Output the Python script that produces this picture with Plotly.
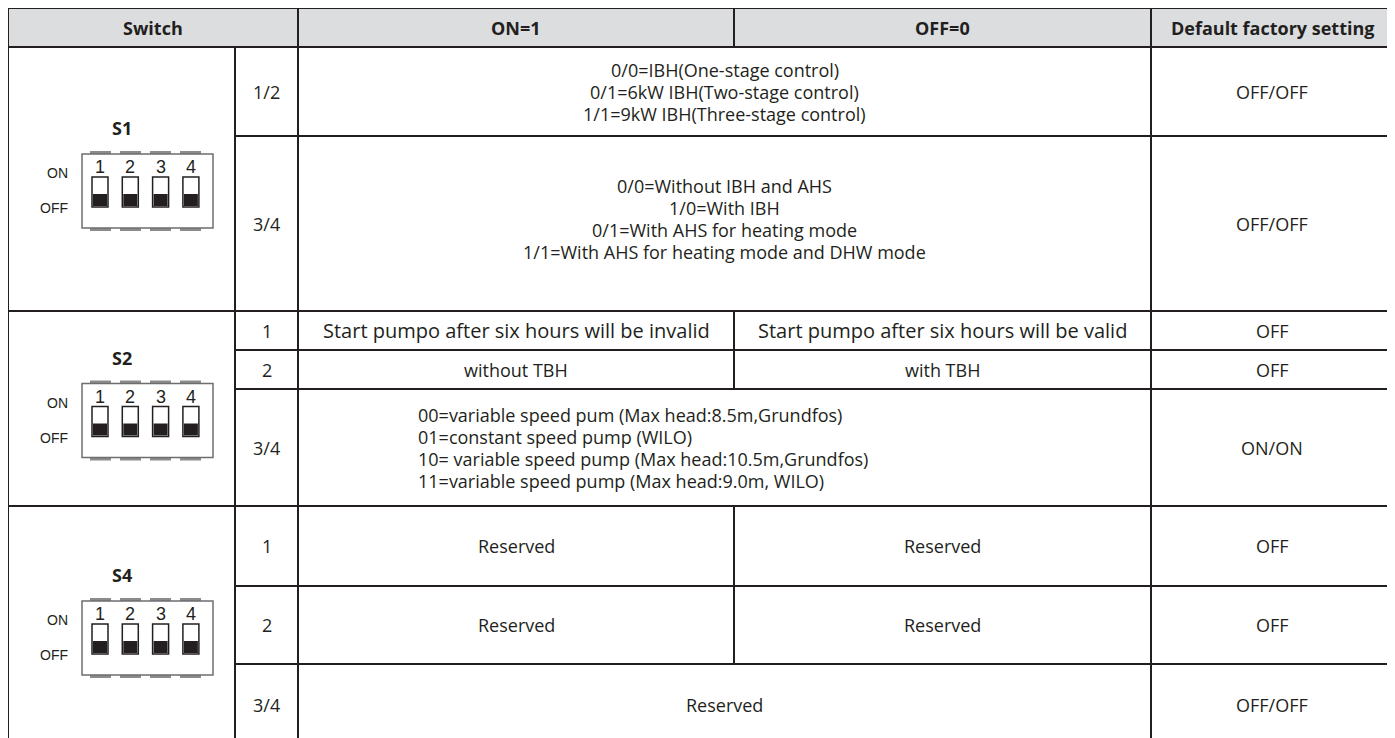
import plotly.graph_objects as go

# ---------------- data ----------------
header_labels = ["Switch", "ON=1", "OFF=0", "Default factory setting"]
switch_names = ["S1", "S2", "S4"]
bit_labels = [["1/2", "3/4"], ["1", "2", "3/4"], ["1", "2", "3/4"]]
on_texts = [
    [["0/0=IBH(One-stage control)", "0/1=6kW IBH(Two-stage control)", "1/1=9kW IBH(Three-stage control)"],
     ["0/0=Without IBH and AHS", "1/0=With IBH", "0/1=With AHS for heating mode",
      "1/1=With AHS for heating mode and DHW mode"]],
    [["Start pumpo after six hours will be invalid"], ["without TBH"],
     ["00=variable speed pum (Max head:8.5m,Grundfos)", "01=constant speed pump (WILO)",
      "10= variable speed pump (Max head:10.5m,Grundfos)", "11=variable speed pump (Max head:9.0m, WILO)"]],
    [["Reserved"], ["Reserved"], ["Reserved"]],
]
off_texts = [
    [None, None],
    [["Start pumpo after six hours will be valid"], ["with TBH"], None],
    [["Reserved"], ["Reserved"], None],
]
defaults = [["OFF/OFF", "OFF/OFF"], ["OFF", "OFF", "ON/ON"], ["OFF", "OFF", "OFF/OFF"]]
left_aligned = [[False, False], [False, False, True], [False, False, False]]
dip_numbers = ["1", "2", "3", "4"]
dip_states = [[0, 0, 0, 0], [0, 0, 0, 0], [0, 0, 0, 0]]

# ---------------- layout (screen pixels) ----------------
COL = [8, 235, 298, 734, 1151, 1393]
HEAD = (8, 47)
ROWS = [[47, 136, 311], [311, 350, 389, 506], [506, 586, 664, 746]]
LINE_H = 22
TXT = "#231f20"
LINE = "#231f20"
FONT = "Open Sans"
FS = 18
CELL_FS = {(1, 0): 20}   # this row's text is set larger in the original

shapes = []
ann = []


def hline(y, x0, x1):
    shapes.append(dict(type="line", xref="x", yref="y", x0=x0, x1=x1, y0=y, y1=y,
                       line=dict(color=LINE, width=2)))


def vline(x, y0, y1):
    shapes.append(dict(type="line", xref="x", yref="y", x0=x, x1=x, y0=y0, y1=y1,
                       line=dict(color=LINE, width=2)))


def rect(x0, y0, x1, y1, fill, lc=None, lw=0):
    shapes.append(dict(type="rect", xref="x", yref="y", x0=x0, x1=x1, y0=y0, y1=y1,
                       fillcolor=fill, line=dict(color=lc or fill, width=lw), layer="above"))


def text(x, y, s, size=FS, bold=False, family=FONT, anchor="center"):
    ann.append(dict(x=x, y=y, xref="x", yref="y", text=("<b>%s</b>" % s) if bold else s,
                    showarrow=False, xanchor=anchor, yanchor="middle",
                    font=dict(family=family, size=size, color=TXT)))


def lines(x, yc, arr, anchor="center", size=FS):
    n = len(arr)
    for i, s in enumerate(arr):
        text(x, yc + (i - (n - 1) / 2) * LINE_H, s, anchor=anchor, size=size)


# header
shapes.append(dict(type="rect", xref="x", yref="y", x0=COL[0], x1=COL[5], y0=HEAD[0], y1=HEAD[1],
                   fillcolor="#dcdddf", line=dict(width=0), layer="below"))
hc = (HEAD[0] + HEAD[1]) / 2
text((COL[0] + COL[2]) / 2, hc, header_labels[0], bold=True)
text((COL[2] + COL[3]) / 2, hc, header_labels[1], bold=True)
text((COL[3] + COL[4]) / 2, hc, header_labels[2], bold=True)
text((COL[4] + COL[5]) / 2, hc, header_labels[3], bold=True)

bottom = ROWS[-1][-1]
hline(HEAD[0], COL[0], COL[5])
hline(HEAD[1], COL[0], COL[5])
vline(COL[0], HEAD[0], bottom)
vline(COL[2], HEAD[0], bottom)
vline(COL[4], HEAD[0], bottom)
vline(COL[5], HEAD[0], bottom)
vline(COL[1], HEAD[1], bottom)
vline(COL[3], HEAD[0], HEAD[1])

for b, edges in enumerate(ROWS):
    top, bot = edges[0], edges[-1]
    hline(bot, COL[0], COL[5])
    for e in edges[1:-1]:
        hline(e, COL[1], COL[5])
    for r in range(len(edges) - 1):
        y0, y1 = edges[r], edges[r + 1]
        yc = (y0 + y1) / 2
        fs = CELL_FS.get((b, r), FS)
        text((COL[1] + COL[2]) / 2, yc, bit_labels[b][r])
        text((COL[4] + COL[5]) / 2, yc, defaults[b][r])
        if off_texts[b][r] is None:
            if left_aligned[b][r]:
                lines(416, yc, on_texts[b][r], anchor="left", size=fs)
            else:
                lines((COL[2] + COL[4]) / 2, yc - 5 if len(on_texts[b][r]) > 3 else yc,
                      on_texts[b][r], size=fs)
        else:
            vline(COL[3], y0, y1)
            lines((COL[2] + COL[3]) / 2, yc, on_texts[b][r], size=fs)
            lines((COL[3] + COL[4]) / 2, yc, off_texts[b][r], size=fs)

    # DIP switch icon
    c = (top + bot) / 2
    text(122, c - 51, switch_names[b], size=18, bold=True)
    for k in range(4):
        rect(90 + 30 * k, c - 28, 111 + 30 * k, c - 25, "#8c8c8c")
        rect(90 + 30 * k, c + 49, 111 + 30 * k, c + 52, "#8c8c8c")
    rect(82, c - 25, 213, c + 49, "white", "#6d6e70", 1.5)
    for k in range(4):
        sx = 100 + 30.3 * k
        text(sx, c - 12, dip_numbers[k], size=18, family="Liberation Sans")
        rect(sx - 8, c - 2, sx + 8, c + 28, "white", "#231f20", 1.5)
        if dip_states[b][k]:
            rect(sx - 7, c - 1, sx + 7, c + 12, "#231f20")
        else:
            rect(sx - 7, c + 15, sx + 7, c + 27, "#231f20")
    text(70, c - 6, "ON", size=14, family="Liberation Sans", anchor="right")
    text(70, c + 29, "OFF", size=14, family="Liberation Sans", anchor="right")

fig = go.Figure()
fig.update_layout(
    width=1387, height=730, margin=dict(l=0, r=0, t=0, b=0),
    paper_bgcolor="white", plot_bgcolor="white",
    xaxis=dict(range=[8, 1395], visible=False, fixedrange=True),
    yaxis=dict(range=[738, 8], visible=False, fixedrange=True),
    shapes=shapes, annotations=ann, showlegend=False,
)
fig.write_html("out.html")
